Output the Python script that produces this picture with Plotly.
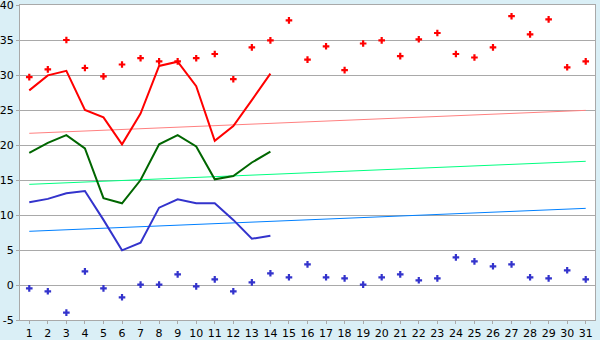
import plotly.graph_objects as go

days = list(range(1, 32))
max_points = [29.7, 30.8, 35.0, 31.0, 29.8, 31.5, 32.4, 31.95, 31.95, 32.4,
              33.0, 29.4, 33.95, 34.95, 37.8, 32.2, 34.1, 30.7, 34.5, 34.95,
              32.7, 35.1, 36.0, 33.0, 32.5, 33.95, 38.4, 35.8, 37.95, 31.1, 31.95]
min_points = [-0.48, -0.9, -3.95, 1.95, -0.48, -1.76, 0.05, 0.05, 1.52, -0.19,
              0.81, -0.9, 0.38, 1.67, 1.1, 2.95, 1.1, 0.95, 0.05, 1.1,
              1.52, 0.67, 0.95, 3.95, 3.38, 2.67, 2.95, 1.1, 0.95, 2.1, 0.81]
line_days = list(range(1, 15))
red_line = [27.8, 29.95, 30.6, 25.0, 23.95, 20.1, 24.5, 31.3, 31.9, 28.4, 20.6, 22.7, 26.4, 30.2]
green_line = [18.86, 20.3, 21.4, 19.5, 12.4, 11.67, 15.0, 20.1, 21.4, 19.8, 15.1, 15.57, 17.5, 19.05]
blue_line = [11.81, 12.3, 13.1, 13.43, 9.3, 4.95, 6.05, 11.05, 12.24, 11.67, 11.67, 9.3, 6.6, 7.05]
trend_days = [1, 31]
trend_max = [21.67, 24.95]
trend_mean = [14.38, 17.67]
trend_min = [7.67, 10.95]
y_ticks = [-5, 0, 5, 10, 15, 20, 25, 30, 35, 40]
y_labels = ["-5", "0", "5", "10", "15", "20", "25", "30", "35", "40"]

fig = go.Figure()
fig.add_trace(go.Scatter(x=trend_days, y=trend_max, mode="lines", line=dict(color="#FF8080", width=1)))
fig.add_trace(go.Scatter(x=trend_days, y=trend_mean, mode="lines", line=dict(color="#00FF80", width=1)))
fig.add_trace(go.Scatter(x=trend_days, y=trend_min, mode="lines", line=dict(color="#0080FF", width=1)))
fig.add_trace(go.Scatter(x=line_days, y=red_line, mode="lines", line=dict(color="#FF0000", width=2)))
fig.add_trace(go.Scatter(x=line_days, y=green_line, mode="lines", line=dict(color="#006600", width=2)))
fig.add_trace(go.Scatter(x=line_days, y=blue_line, mode="lines", line=dict(color="#3333CC", width=2)))
fig.add_trace(go.Scatter(x=days, y=max_points, mode="markers",
                         marker=dict(symbol="cross", size=5.5, color="#FF0000", line=dict(width=0))))
fig.add_trace(go.Scatter(x=days, y=min_points, mode="markers",
                         marker=dict(symbol="cross", size=5.5, color="#3333CC", line=dict(width=0))))

fig.update_layout(
    width=600, height=340,
    margin=dict(l=20, r=5, t=5, b=20, autoexpand=False),
    paper_bgcolor="#DAEFF6", plot_bgcolor="#FFFFFF",
    showlegend=False,
    font=dict(family="DejaVu Sans", size=11, color="#000000"),
)
fig.update_xaxes(range=[0.5, 31.5], tickvals=days, ticktext=[str(d) for d in days],
                 showgrid=False, zeroline=False, showline=True, linecolor="#A9A9A9", linewidth=1,
                 mirror=True, ticks="outside", ticklen=3, tickcolor="#A9A9A9", tickfont=dict(size=11),
                 automargin=False, ticklabeloverflow="allow")
fig.update_yaxes(range=[-5, 40], tickvals=y_ticks, ticktext=y_labels,
                 showgrid=True, gridcolor="#A9A9A9", gridwidth=1, zeroline=False,
                 showline=True, linecolor="#A9A9A9", linewidth=1, mirror=True,
                 ticks="outside", ticklen=3, tickcolor="#A9A9A9", tickfont=dict(size=11),
                 automargin=False, ticklabeloverflow="allow")

fig.write_html("out.html")
